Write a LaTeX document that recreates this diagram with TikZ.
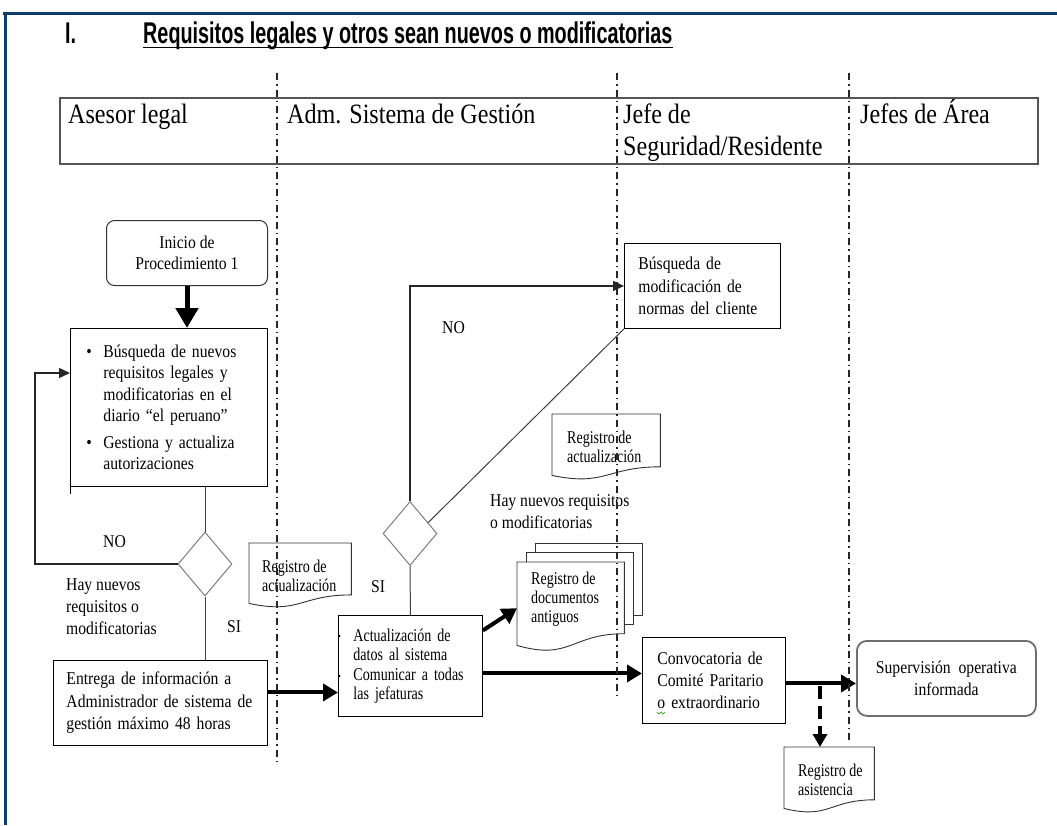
\documentclass[tikz,border=0pt]{standalone}
\usepackage{fontspec}
\setmainfont[FakeStretch=0.87]{Liberation Serif}
\newfontfamily\condfont[FakeStretch=0.78]{Liberation Serif}
\newfontfamily\headfont[FakeStretch=0.86]{Liberation Serif}
\newfontfamily\titlefont[FakeStretch=0.66]{Liberation Sans}
\usetikzlibrary{shapes.geometric, arrows.meta, calc}

\definecolor{framecol}{RGB}{16,58,110}
\definecolor{diagray}{RGB}{125,125,125}
\definecolor{hdrgray}{RGB}{85,85,85}
\definecolor{supgray}{RGB}{110,110,110}
\definecolor{spellgreen}{RGB}{90,170,60}

\tikzset{
  body/.style={font=\fontsize{18}{21.5}\selectfont},
  smalltxt/.style={font=\condfont\fontsize{18}{19}\selectfont},
  headtxt/.style={font=\headfont\fontsize{28}{32}\selectfont, inner sep=0pt, align=left},
  procbox/.style={draw, line width=0.9pt, anchor=north west, inner ysep=0pt, align=left},
  roundbox/.style={draw, rounded corners=8pt, anchor=north west, inner sep=0pt, align=center},
  decision/.style={draw=diagray, line width=1pt, shape=diamond, inner sep=0pt,
    minimum width=54pt, minimum height=64pt},
  docnode/.style={anchor=north west, inner sep=0pt},
  doctext/.style={anchor=west, inner sep=0pt, align=left, smalltxt},
  docline/.style={draw=black!80, line width=0.9pt, fill=white},
  plain/.style={inner sep=0pt, align=left, body},
  link/.style={draw=black!75, line width=1pt},
  thinarrow/.style={draw=black!85, line width=1.3pt, -{Triangle[length=11pt,width=10pt]}},
  thickarrow/.style={line width=4pt, -{Triangle[length=15pt,width=17pt]}},
  startarrow/.style={line width=5pt, -{Triangle[length=20pt,width=22pt]}},
  dasharrow/.style={line width=3.5pt, dash pattern=on 13pt off 7pt, -{Triangle[length=13pt,width=14pt]}},
  lane/.style={draw=black!85, line width=2pt, dash pattern=on 7pt off 4pt on 1.5pt off 4pt},
  frameline/.style={draw=framecol, line width=3pt},
}

% document symbol: straight top and sides, wavy bottom
% #1 node, #2 rise of the right corner, #3 depth of the lower control point
\newcommand\docoutline[3]{%
  \draw[docline] (#1.north west) -- (#1.north east) -- ($(#1.south east)+(0,-#2)$)
    .. controls ($(#1.south)+(0,-#2)$) and ($(#1.south)+(0,#3)$) .. (#1.south west) -- cycle;
}

\begin{document}
\begin{tikzpicture}[x=1pt, y=-1pt]
\useasboundingbox (0,0) rectangle (1057,825);

% page frame
\draw[frameline] (3,13) -- (1057,13);
\draw[frameline] (5.5,13) -- (5.5,825);

% heading
\node[inner sep=0pt, anchor=base west, font=\titlefont\bfseries\fontsize{30}{34}\selectfont] (num) at (65,43) {I.};
\node[inner sep=0pt, anchor=base west, font=\titlefont\bfseries\fontsize{30}{34}\selectfont] (title) at (143,43)
  {Requisitos legales y otros sean nuevos o modificatorias};
\draw[line width=1.8pt] ($(title.base west)+(0,4.5)$) -- ($(title.base east)+(0,4.5)$);

% swimlane header
\node[draw=hdrgray, line width=1.5pt, anchor=north west, minimum width=978pt, minimum height=66pt, inner sep=0pt] (hdr) at (59,97) {};
\node[headtxt, anchor=base west] (h1) at (68,123) {Asesor legal};
\node[headtxt, anchor=base west] (h2) at (287,123) {Adm. Sistema de Gestión};
\node[headtxt, anchor=north west] (h3) at (623,104) {Jefe de\\Seguridad/Residente};
\node[headtxt, anchor=base west] (h4) at (860,123) {Jefes de Área};

% --- Asesor legal lane ---
\node[roundbox, body, draw=black!80, line width=1pt, minimum width=161pt, minimum height=65pt] (ini) at (106,220)
  {Inicio de\\Procedimiento 1};

\node[procbox, body, minimum width=197pt, minimum height=158pt, inner xsep=16pt, text width=165pt] (b1) at (70,328)
  {\makebox[17pt][l]{\textbullet}Búsqueda de nuevos\\
   \hspace*{17pt}requisitos legales y\\
   \hspace*{17pt}modificatorias en el\\
   \hspace*{17pt}diario “el peruano”\\[5pt]
   \makebox[17pt][l]{\textbullet}Gestiona y actualiza\\
   \hspace*{17pt}autorizaciones};
\draw[line width=1pt] (b1.south west) -- ++(0,7);

\node[decision] (d1) at (205,564) {};

\node[procbox, body, font=\fontsize{18}{22.5}\selectfont, minimum width=214pt, minimum height=85pt, inner xsep=13pt, text width=188pt] (b2) at (53,660)
  {Entrega de información a\\Administrador de sistema de\\gestión máximo 48 horas};

\node[plain, anchor=base west] (no1) at (103,547) {NO};
\node[plain, anchor=base west] (si1) at (227,632) {SI};
\node[plain, anchor=north west, font=\fontsize{18}{22}\selectfont] (q1) at (66,579)
  {Hay nuevos\\requisitos o\\modificatorias};

\draw[startarrow] (ini.south) -- (ini.south |- b1.north);
\draw[link] (d1.north) -- (d1.north |- b1.south);
\draw[link] (d1.south) -- (d1.south |- b2.north);
\coordinate (loopL) at (35,564);
\coordinate (loopT) at (35,373);
\draw[thinarrow] (d1.west) -- (loopL) -- (loopT) -- (loopT -| b1.west);

% --- Adm. Sistema de Gestión lane ---
\node[docnode, minimum width=102pt, minimum height=60pt] (reg1) at (249,543) {};
\docoutline{reg1}{8.5}{11}
\node[doctext] (reg1t) at ($(reg1.west)+(13,3)$) {Registro de\\actualización};

\node[procbox, font=\condfont\fontsize{18}{19.5}\selectfont, minimum width=144pt, minimum height=101pt, inner xsep=15pt, text width=114pt] (b3) at (338,615)
  {Actualización de\\datos al sistema\\Comunicar a todas\\las jefaturas};
\fill (339.5,636) circle (1.1pt);
\fill (339.5,676) circle (1.1pt);

\node[decision] (d2) at (410,533.5) {};

\node[plain, anchor=base west] (no2) at (442,333) {NO};
\node[plain, anchor=base west] (si2) at (371,592) {SI};

\draw[thickarrow] ($(b2.east)+(0,-10.5)$) coordinate (e2) -- (e2 -| b3.west);
\draw[link] (d2.south) -- (b3.north);

% --- Jefe de Seguridad/Residente lane ---
\node[procbox, body, font=\fontsize{18}{22.5}\selectfont, minimum width=156pt, minimum height=85pt, inner xsep=14pt, text width=128pt] (bq) at (624,243)
  {Búsqueda de\\modificación de\\normas del cliente};

\draw[thinarrow] (d2.north) |- (bq.west);
\draw[link] (d2.31) -- (bq.south west);

\node[docnode, minimum width=108pt, minimum height=61pt] (reg2) at (552,414) {};
\docoutline{reg2}{8.6}{11.3}
\node[doctext] (reg2t) at ($(reg2.west)+(15,2)$) {Registro de\\actualización};

\node[plain, anchor=north west, font=\fontsize{18}{22}\selectfont] (q2) at (490,494)
  {Hay nuevos requisitos\\o modificatorias};

% stacked documents
\node[docnode, minimum width=107pt, minimum height=83pt] (docs) at (517,562) {};
\draw[docline] ($(docs.north west)+(18,-19)$) rectangle ($(docs.south east)+(18,-30)$);
\draw[docline] ($(docs.north west)+(9,-10)$) rectangle ($(docs.south east)+(9,-21)$);
\docoutline{docs}{11.7}{15.5}
\node[doctext] (docst) at ($(docs.west)+(14,-5)$)
  {Registro de\\documentos\\antiguos};

\node[procbox, body, font=\fontsize{18}{22}\selectfont, minimum width=143pt, minimum height=86pt, inner xsep=15pt, text width=113pt] (conv) at (642,637)
  {Convocatoria de\\Comité Paritario\\o extraordinario};
\draw[spellgreen, line width=0.8pt] (657,712) -- (659,714) -- (661,712) -- (663,714) -- (665,712);

\draw[thickarrow] ($(b3.east)+(0,-35.5)$) -- ($(docs.west)+(0,4.5)$);
\draw[thickarrow] ($(b3.east)+(0,7.5)$) coordinate (e3) -- (e3 -| conv.west);

% --- Jefes de Área lane ---
\node[roundbox, body, draw=supgray, line width=1.8pt, rounded corners=10pt, minimum width=179pt, minimum height=75pt] (sup) at (856,640)
  {Supervisión\ \ operativa\\informada};

\node[docnode, minimum width=90pt, minimum height=61pt] (ra) at (784,747) {};
\docoutline{ra}{8.6}{11.3}
\node[doctext] (rat) at ($(ra.west)+(14,2)$) {Registro de\\asistencia};

\draw[thickarrow] ($(conv.east)+(0,3)$) coordinate (e4) -- (e4 -| sup.west);
\coordinate (split) at (820,683);
\draw[dasharrow] ($(split)+(0,3)$) -- (split |- ra.north);

% lane separators
\draw[lane] (277,73) -- (277,765);
\draw[lane] (617,73) -- (617,697);
\draw[lane] (849,73) -- (849,742);

\end{tikzpicture}
\end{document}
